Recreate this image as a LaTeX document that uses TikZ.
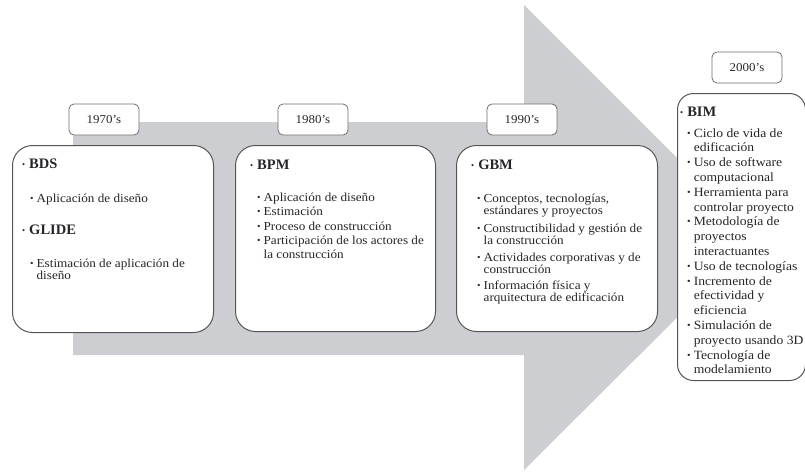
\documentclass[tikz,border=0pt]{standalone}
\usepackage{graphicx}
\usepackage{fontspec}
\setmainfont{Liberation Serif}[FakeStretch=1.08]
\newfontfamily\hdrfont{Liberation Serif}
\definecolor{arrowgray}{RGB}{205,206,209}
\definecolor{boxline}{RGB}{85,85,85}
\definecolor{txt}{RGB}{38,38,42}
\newcommand{\bl}{\raisebox{0.15ex}{\scalebox{0.75}{\mdseries\textbullet}}}
\newcommand{\hb}{\raisebox{0.1ex}{\scalebox{0.6}{\mdseries\textbullet}}\hspace{4pt}}
\newcommand{\bitem}[1]{\begin{tabular}[t]{@{}l@{\hspace{3pt}}l@{}}\bl & #1\end{tabular}}
\tikzset{
  yearbox/.style={draw=boxline!85, fill=white, rounded corners=5pt, line width=0.8pt,
    minimum width=70pt, minimum height=31pt, inner sep=0pt, text=txt,
    font=\fontsize{12}{13}\selectfont},
  contentbox/.style={draw=boxline, fill=white, rounded corners=20pt, line width=1pt,
    anchor=north west, inner sep=0pt},
  hdr/.style={anchor=base west, inner sep=0pt, text=txt, font=\hdrfont\fontsize{14.5}{16}\selectfont\bfseries},
  itm/.style={anchor=base west, inner sep=0pt, text=txt, font=\fontsize{12.2}{14.3}\selectfont},
  itmd/.style={itm, font=\fontsize{12.2}{12.5}\selectfont},
  itmb/.style={anchor=base west, inner sep=0pt, text=txt, font=\fontsize{12.6}{14.8}\selectfont},
}
\begin{document}
\begin{tikzpicture}[x=1pt,y=-1pt]
\useasboundingbox (0,0) rectangle (805,471);
% big arrow
\fill[arrowgray] (73,122) -- (524,122) -- (524,5) -- (757,238) -- (524,470) -- (524,355) -- (73,355) -- cycle;
% year labels
\node[yearbox] (y70) at (104,119.5) {1970’s};
\node[yearbox] (y80) at (313,119.5) {1980’s};
\node[yearbox] (y90) at (522,119.5) {1990’s};
\node[yearbox] (y00) at (747,67.5) {2000’s};
% content boxes
\node[contentbox, minimum width=201pt, minimum height=187pt] (bdsbox) at (12,145) {};
\node[contentbox, minimum width=200pt, minimum height=186pt] (bpmbox) at (235,145) {};
\node[contentbox, minimum width=201pt, minimum height=186pt] (gbmbox) at (456,145) {};
\node[contentbox, minimum width=128pt, minimum height=287pt, rounded corners=16pt] (bimbox) at (677,93) {};
% BDS / GLIDE
\node[hdr] (bdsh) at (22,168) {\hb BDS};
\node[itm] (bds1) at (30,202) {\bitem{Aplicación de diseño}};
\node[hdr] (glideh) at (22,234) {\hb GLIDE};
\node[itmd] (glide1) at (30,267) {\bitem{Estimación de aplicación de\\ & diseño}};
% BPM
\node[hdr] (bpmh) at (250,169) {\hb BPM};
\node[itm] (bpm1) at (257,201) {\bitem{Aplicación de diseño}};
\node[itm] (bpm2) at (257,215.5) {\bitem{Estimación}};
\node[itm] (bpm3) at (257,230) {\bitem{Proceso de construcción}};
\node[itm] (bpm4) at (257,244.5) {\bitem{Participación de los actores de\\ & la construcción}};
% GBM
\node[hdr] (gbmh) at (471,169) {\hb GBM};
\node[itmd] (gbm1) at (477,202) {\bitem{Conceptos, tecnologías,\\ & estándares y proyectos}};
\node[itmd] (gbm2) at (477,232) {\bitem{Constructibilidad y gestión de\\ & la construcción}};
\node[itmd] (gbm3) at (477,261) {\bitem{Actividades corporativas y de\\ & construcción}};
\node[itmd] (gbm4) at (477,289) {\bitem{Información física y\\ & arquitectura de edificación}};
% BIM
\node[hdr] (bimh) at (680,116) {\hb BIM};
\node[itmb] (bim1) at (687,137.0) {\bitem{Ciclo de vida de\\ & edificación}};
\node[itmb] (bim2) at (687,166.6) {\bitem{Uso de software\\ & computacional}};
\node[itmb] (bim3) at (687,196.2) {\bitem{Herramienta para\\ & controlar proyecto}};
\node[itmb] (bim4) at (687,225.8) {\bitem{Metodología de\\ & proyectos\\ & interactuantes}};
\node[itmb] (bim5) at (687,270.2) {\bitem{Uso de tecnologías}};
\node[itmb] (bim6) at (687,285.0) {\bitem{Incremento de\\ & efectividad y\\ & eficiencia}};
\node[itmb] (bim7) at (687,329.4) {\bitem{Simulación de\\ & proyecto usando 3D}};
\node[itmb] (bim8) at (687,359.0) {\bitem{Tecnología de\\ & modelamiento}};
\end{tikzpicture}
\end{document}
